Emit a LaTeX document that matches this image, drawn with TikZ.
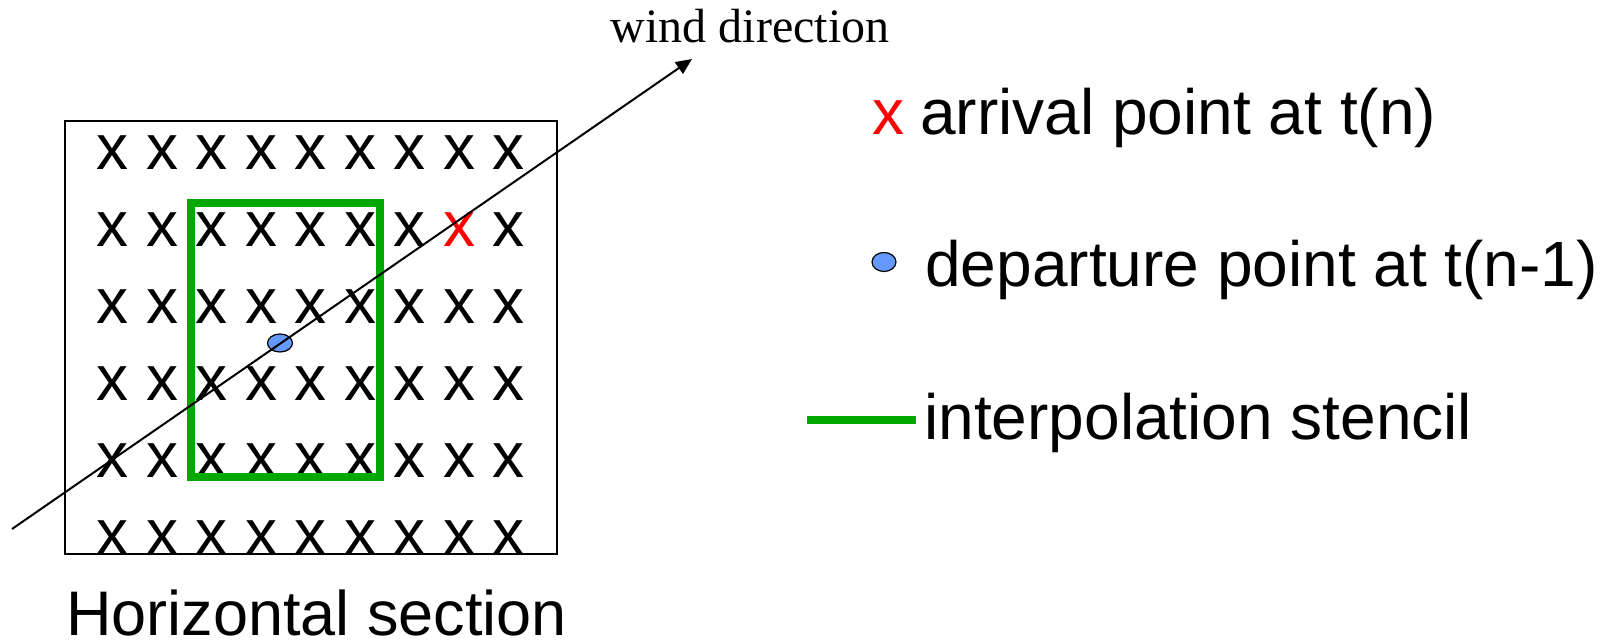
\documentclass[tikz,border=0pt]{standalone}
\usepackage{fontspec}
\setmainfont{Liberation Sans}
\newfontfamily\windfont{Liberation Serif}
\usetikzlibrary{arrows.meta,shapes.geometric}
\definecolor{stencilgreen}{RGB}{0,168,0}
\definecolor{dotblue}{RGB}{102,153,255}
\definecolor{arrivalred}{RGB}{255,0,0}

\begin{document}
\begin{tikzpicture}[x=0.5pt,y=-0.5pt,
  gridx/.style={inner sep=0pt, font=\fontsize{32}{32}\selectfont},
  legendtext/.style={inner sep=0pt, anchor=base west, font=\fontsize{32}{38}\selectfont},
  depdot/.style={ellipse, draw=black, line width=0.6pt, fill=dotblue,
                 minimum width=12.5pt, minimum height=9pt, inner sep=0pt},
  stencil/.style={draw=stencilgreen, line width=4pt},
  windline/.style={line width=1pt, -{Triangle[length=8pt,width=7pt]}},
]
\useasboundingbox (0,0) rectangle (1607,640);

% horizontal section frame
\draw[line width=1pt] (64.5,121) rectangle (556.5,554.5);

% grid points
\foreach \r in {0,...,5}{
  \foreach \c in {0,...,8}{
    \pgfmathsetmacro\xx{112.5+49.5*\c}
    \pgfmathsetmacro\yy{152.5+77*\r}
    \pgfmathtruncatemacro\isred{and(\r==1,\c==7)}
    \ifnum\isred=1 \def\xcol{arrivalred}\else\def\xcol{black}\fi
    \node[gridx, text=\xcol] (g-\r-\c) at (\xx,\yy) {x};
  }
}

% interpolation stencil
\draw[stencil] (191,203.5) rectangle (379.5,477);

% departure point and wind direction
\node[depdot] (dep) at (280,343) {};
\coordinate (wstart) at (12,529);
\coordinate (wend) at (692,59);
\draw[windline] (wstart) -- (wend);
\node[inner sep=0pt, anchor=base, font=\windfont\fontsize{24}{24}\selectfont]
  (wind) at (750,43) {wind direction};

% caption
\node[inner sep=0pt, anchor=base west, font=\fontsize{31.5}{33}\selectfont]
  (caption) at (66,636) {Horizontal section};

% legend
\node[gridx, text=arrivalred] (legx) at (888,117.5) {x};
\node[legendtext] (legarr) at (920,135) {arrival point at t(n)};
\node[depdot, minimum width=12pt, minimum height=9.5pt] (legdot) at (884,262) {};
\node[legendtext] (legdep) at (925,287) {departure point at t(n-1)};
\coordinate (lineA) at (807,420);
\coordinate (lineB) at (916,420);
\draw[stencil] (lineA) -- (lineB);
\node[legendtext] (legsten) at (924,440) {interpolation stencil};
\end{tikzpicture}
\end{document}
